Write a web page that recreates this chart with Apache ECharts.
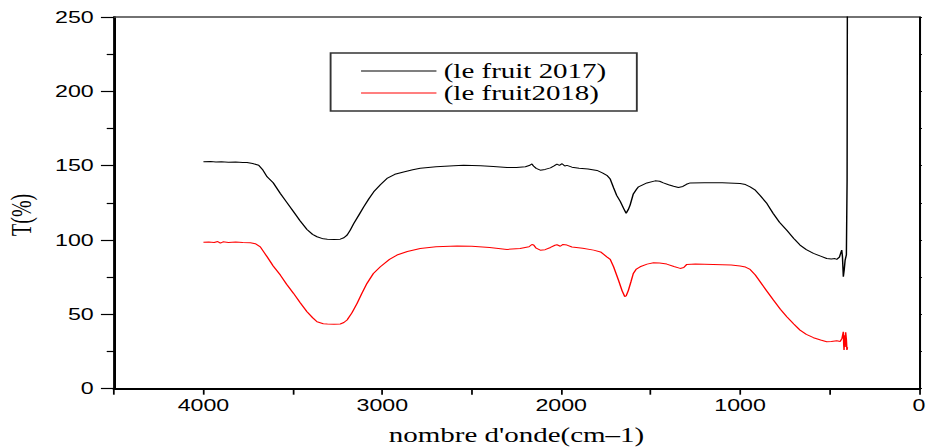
<!DOCTYPE html>
<html><head><meta charset="utf-8">
<script src="https://cdn.jsdelivr.net/npm/echarts@6/dist/echarts.min.js"></script>
<style>
html,body{margin:0;padding:0;background:#fff;overflow:hidden}
#wrap{width:928px;height:448px;overflow:hidden}
#c{width:640px;height:448px;transform:scaleX(1.45);transform-origin:0 0}
</style></head><body><div id="wrap"><div id="c"></div></div>
<script>
// ---- data ----
const seriesNames = ['(le fruit 2017)', '(le fruit2018)'];
const xTickLabels = ['0', '1000', '2000', '3000', '4000'];
const yTickLabels = ['0', '50', '100', '150', '200', '250'];

const wn2017 = [4000,3960,3930,3900,3860,3820,3780,3756,3725,3691,3670,3644,3610,3570,3535,3496,3460,3421,3390,3365,3330,3307,3270,3235,3215,3197,3180,3160,3130,3104,3075,3048,3011,2974,2930,2881,2830,2788,2700,2600,2546,2450,2380,2303,2250,2200,2175,2164,2155,2140,2117,2090,2060,2040,2024,2010,1995,1980,1968,1940,1900,1850,1800,1770,1745,1726,1707,1690,1670,1650,1637,1625,1615,1597,1580,1568,1521,1475,1450,1429,1400,1372,1345,1320,1300,1279,1200,1100,1000,970,944,915,888,850,816,780,739,700,665,630,590,550,516,490,470,460,445,432,428,423,418,413,406,402,400];
const t2017 = [152.6,152.8,152.4,152.7,152.3,152.5,152.2,152.2,151.5,150.3,147.5,142.5,138.5,131.3,125.5,119,113,107.1,103.8,102.2,100.8,100.6,100.4,100.6,101.5,103.3,106.5,111,117,122.3,127.8,132.4,137.2,141.4,144.2,145.8,147.3,148.2,149.3,150.0,150.3,150.0,149.5,148.8,148.8,149.3,150.3,151.2,149.8,148.2,147.0,147.5,148.5,149.8,151.0,150.2,151.3,149.8,150.2,149.0,148.3,147.8,146.8,145.2,143.5,141,135,130,126,121,118,120.5,123.5,131,134,135.8,138.4,139.8,139.5,138.4,137.2,136.2,135.3,136,137.5,138.4,138.6,138.5,138,137.3,135.8,133.5,130,124.5,118,112,106.6,101,96.6,93.5,91,89.2,87.6,87.2,87.5,87,88.5,93.2,89,75.3,80,86.5,90,140,300];

const wn2018 = [4000,3970,3940,3920,3905,3890,3860,3820,3780,3737,3710,3682,3660,3644,3610,3570,3535,3496,3460,3421,3390,3365,3330,3307,3270,3235,3215,3197,3170,3141,3115,3086,3050,3011,2960,2918,2860,2788,2700,2582,2500,2400,2303,2230,2180,2164,2154,2140,2117,2090,2060,2035,2024,2005,1990,1968,1940,1880,1819,1780,1745,1726,1707,1680,1660,1645,1637,1625,1610,1597,1580,1559,1520,1484,1450,1410,1370,1335,1315,1298,1250,1150,1050,1000,970,944,915,888,850,814,775,739,700,665,630,590,550,516,490,460,440,430,423,421,419,416,413,410,406,403,400];
const t2018 = [98.5,98.7,98.3,99.0,97.9,98.8,98.4,98.6,98.3,98.2,97.5,95.4,91.5,88.7,82.5,76.4,70.3,64.1,58,51.7,47.8,45.0,43.7,43.5,43.3,43.5,44.5,46.2,51,57.4,64,70.8,77.5,82,87,89.9,92.3,94.3,95.4,95.9,95.8,95.0,93.7,94.3,95.5,97,96.6,94.5,93.2,93.5,95,96.5,96.8,95.8,97,96.6,95.3,94.5,93.2,92,88.7,87,82,73,66,62,62.5,66,72,77.5,80.5,82,83.8,84.7,84.5,83.8,82.2,80.9,81.5,83.6,83.8,83.6,83.2,82.5,81.8,80.2,76.5,71.9,65.5,59.6,53.5,48.4,43.5,39.4,36.5,34.3,32.8,31.6,31.8,32.3,31.8,34,38.3,30,26,36,28,38,33,26,28];

const pairs = (xs, ys) => xs.map((x, i) => [x, ys[i]]);

const chart = echarts.init(document.getElementById('c'), null, {renderer: 'svg'});
const tickFont = {fontFamily: 'Liberation Sans, Arial', fontSize: 16, color: '#000'};
const nameFont = {fontFamily: 'Liberation Serif, Times New Roman', fontSize: 20, color: '#000'};

chart.setOption({
  animation: false,
  backgroundColor: '#fff',
  grid: {left: 78.6, right: 6.2, top: 17, bottom: 59.3, containLabel: false, outerBoundsMode: 'none'},
  legend: {
    orient: 'vertical', left: 228, top: 53,
    padding: [7, 21, 7, 21], itemWidth: 52, itemHeight: 1, itemGap: 0,
    icon: 'rect',
    borderColor: '#333', borderWidth: 1.3,
    textStyle: {fontFamily: 'Liberation Serif, Times New Roman', fontSize: 20, lineHeight: 22, color: '#000'},
    data: seriesNames
  },
  xAxis: [{
    type: 'value', min: 0, max: 4500, interval: 1000, inverse: true, position: 'bottom',
    axisLine: {onZero: false, lineStyle: {color: '#000', width: 2}},
    axisTick: {length: 6, lineStyle: {color: '#000', width: 1.2}},
    minorTick: {show: true, splitNumber: 2, length: 6, lineStyle: {color: '#000', width: 1.2}},
    splitLine: {show: false},
    axisLabel: Object.assign({margin: 9, showMaxLabel: false,
      formatter: v => xTickLabels[xTickLabels.indexOf(String(v))] ?? ''}, tickFont),
    name: "nombre d'onde(cm\u20131)", nameLocation: 'middle', nameGap: 36,
    nameTextStyle: nameFont
  }, {
    type: 'value', min: 0, max: 4500, inverse: true, position: 'top',
    axisLine: {show: true, onZero: false, lineStyle: {color: '#444', width: 1.5}},
    axisTick: {show: false}, axisLabel: {show: false}, splitLine: {show: false}
  }],
  yAxis: [{
    type: 'value', min: 0, max: 250, interval: 50, position: 'left',
    axisLine: {show: true, onZero: false, lineStyle: {color: '#000', width: 2}},
    axisTick: {show: true, length: 9, lineStyle: {color: '#000', width: 1.2}},
    minorTick: {show: true, splitNumber: 2, length: 5, lineStyle: {color: '#000', width: 1.2}},
    splitLine: {show: false},
    axisLabel: Object.assign({margin: 14,
      formatter: v => yTickLabels[yTickLabels.indexOf(String(v))] ?? ''}, tickFont),
    name: 'T(%)', nameLocation: 'middle', nameGap: 54,
    nameTextStyle: Object.assign({padding: [0, 24, 0, 0]}, nameFont)
  }, {
    type: 'value', min: 0, max: 250, interval: 25, position: 'right',
    axisLine: {show: true, onZero: false, lineStyle: {color: '#000', width: 1.4}},
    axisTick: {show: true, length: 2, lineStyle: {color: '#000', width: 1}},
    axisLabel: {show: false}, splitLine: {show: false}
  }],
  series: [{
    name: seriesNames[0], type: 'line', xAxisIndex: 0, yAxisIndex: 0,
    symbol: 'none', showSymbol: false, clip: true,
    lineStyle: {color: '#000', width: 1}, itemStyle: {color: '#000'},
    data: pairs(wn2017, t2017)
  }, {
    name: seriesNames[1], type: 'line', xAxisIndex: 0, yAxisIndex: 0,
    symbol: 'none', showSymbol: false, clip: true,
    lineStyle: {color: '#ff0000', width: 1}, itemStyle: {color: '#ff0000'},
    data: pairs(wn2018, t2018)
  }]
});
</script></body></html>
